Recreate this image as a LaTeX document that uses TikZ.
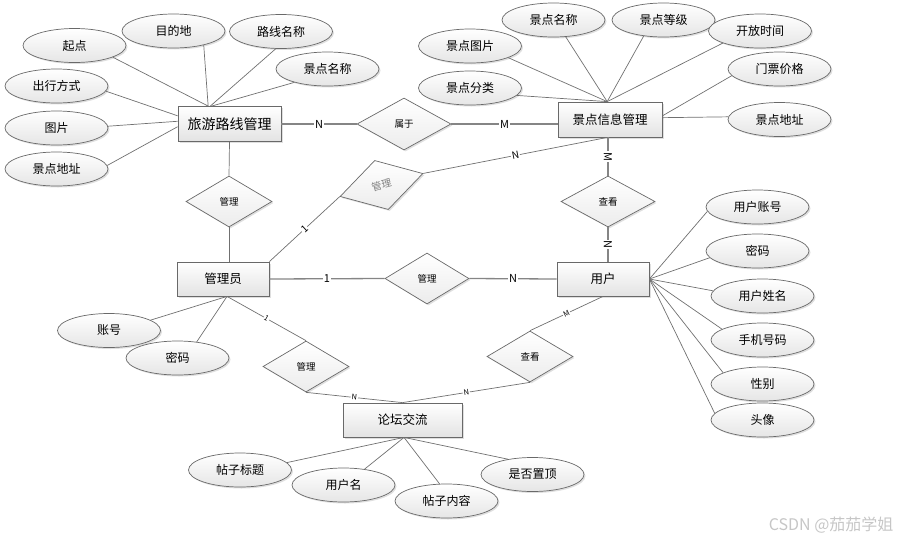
\documentclass[tikz,border=0pt]{standalone}
\usepackage{fontspec}
\setmainfont{Noto Sans CJK SC}
\usepackage{xcolor}
\usepackage{tikz}
\usetikzlibrary{shapes.geometric, shadows, positioning}

\definecolor{linegray}{RGB}{112,112,112}
\definecolor{boxgray}{RGB}{105,105,105}

\begin{document}
\begin{tikzpicture}[x=1pt, y=-1pt,
        shadowed/.style={
                drop shadow={opacity=0.25, shadow xshift=1.5pt, shadow yshift=-1.5pt},
        },
        entity/.style={
                rectangle,
                draw=boxgray,
                line width=0.8pt,
                top color=white, bottom color=gray!22,
                shadowed,
                minimum width=92pt, minimum height=34pt, inner sep=0pt,
                font=\fontsize{12.5}{15}\selectfont,
        },
        attribute/.style={
                ellipse,
                draw=boxgray,
                line width=0.7pt,
                top color=white, bottom color=gray!20,
                shadowed,
                minimum width=103pt, minimum height=34pt, inner sep=0pt,
                font=\fontsize{12}{14}\selectfont,
        },
        relation/.style={
                diamond,
                draw=boxgray,
                line width=0.7pt,
                top color=white, bottom color=gray!15,
                shadowed,
                minimum width=86pt, minimum height=51pt, inner sep=0pt,
                font=\fontsize{9.5}{11}\selectfont,
        },
        link/.style={draw=linegray, line width=0.7pt},
        strong/.style={draw=linegray!85, line width=1.3pt},
        card/.style={fill=white, inner sep=0.8pt, font=\fontsize{11}{12}\selectfont},
        smallcard/.style={card, font=\fontsize{7.5}{8}\selectfont},
    ]
    \useasboundingbox (0,0) rectangle (901,541);

    % entities
    \node[entity, minimum width=103pt, minimum height=35pt, font=\fontsize{14}{16}\selectfont] (route) at (229.5,124) {旅游路线管理};
    \node[entity, minimum width=104pt, minimum height=35pt] (spot) at (610,119.5) {景点信息管理};
    \node[entity] (admin) at (223,279) {管理员};
    \node[entity] (user) at (603,279) {用户};
    \node[entity, minimum width=119pt] (forum) at (402.5,420) {论坛交流};

    % relations
    \node[relation, minimum width=94pt, minimum height=52pt] (belong) at (404,124) {属于};
    \node[relation] (manage1) at (229,201.5) {管理};
    \node[relation, rotate=15.5, text=gray, font=\fontsize{10}{12}\selectfont] (manage2) at (381.5,185) {管理};
    \node[relation, minimum width=84pt] (manage3) at (427,278.5) {管理};
    \node[relation] (manage4) at (306,366.5) {管理};
    \node[relation, minimum width=94pt] (view1) at (608,201.5) {查看};
    \node[relation] (view2) at (530,356.5) {查看};

    % attributes of route
    \node[attribute] (start) at (74.5,45.5) {起点};
    \node[attribute] (dest) at (173.5,31) {目的地};
    \node[attribute] (routename) at (281,31.5) {路线名称};
    \node[attribute] (spotname1) at (327.5,69) {景点名称};
    \node[attribute] (travel) at (56.5,86) {出行方式};
    \node[attribute] (picture) at (56.5,128) {图片};
    \node[attribute] (spotaddr1) at (56.5,169) {景点地址};
    \draw[link] (start.-17) -- (route.140);
    \draw[link] (dest.-25) -- (route.140);
    \draw[link] (routename.253) -- (route.137);
    \draw[link] (spotname1.202) -- (route.135);
    \draw[link] (travel.-6) -- (route.171);
    \draw[link] (picture.2) -- (route.177);
    \draw[link] (spotaddr1.4) -- (route.183);

    % attributes of spot
    \node[attribute] (spotname2) at (553.5,20) {景点名称};
    \node[attribute] (spotlevel) at (663.5,20) {景点等级};
    \node[attribute] (opentime) at (760,31) {开放时间};
    \node[attribute] (spotpic) at (470,46) {景点图片};
    \node[attribute] (spottype) at (470,88) {景点分类};
    \node[attribute] (ticket) at (779.5,69) {门票价格};
    \node[attribute] (spotaddr2) at (779.5,119.5) {景点地址};
    \draw[link] (spotname2.-54) -- (spot.99);
    \draw[link] (spotlevel.219) -- (spot.99);
    \draw[link] (opentime.198) -- (spot.99);
    \draw[link] (spotpic.-17) -- (spot.99);
    \draw[link] (spottype.-9) -- (spot.99);
    \draw[link] (ticket.188) -- (spot.4);
    \draw[link] (spotaddr2.177) -- (spot.2);

    % attributes of admin
    \node[attribute] (account) at (109,330.5) {账号};
    \node[attribute] (pwd1) at (177.5,358) {密码};
    \draw[link] (account.14) -- (admin.283);
    \draw[link] (pwd1.40) -- (admin.283);

    % attributes of user
    \node[attribute] (uaccount) at (757.5,207) {用户账号};
    \node[attribute] (pwd2) at (757.5,251) {密码};
    \node[attribute] (uname) at (762.5,296) {用户姓名};
    \node[attribute] (phone) at (762.5,340) {手机号码};
    \node[attribute] (gender) at (762.5,384) {性别};
    \node[attribute] (avatar) at (762.5,420) {头像};
    \draw[link] (uaccount.185) -- (user.east);
    \draw[link] (pwd2.188) -- (user.east);
    \draw[link] (uname.174) -- (user.east);
    \draw[link] (phone.165) -- (user.east);
    \draw[link] (gender.164) -- (user.east);
    \draw[link] (avatar.172) -- (user.east);

    % attributes of forum
    \node[attribute] (title) at (240,470) {帖子标题};
    \node[attribute] (username) at (343.5,485) {用户名};
    \node[attribute] (content) at (446.5,501) {帖子内容};
    \node[attribute] (pinned) at (532.5,474.5) {是否置顶};
    \draw[link] (title.9) -- (forum.-85);
    \draw[link] (username.37) -- (forum.-85);
    \draw[link] (content.112) -- (forum.-85);
    \draw[link] (pinned.148) -- (forum.-85);

    % relation lines
    \draw[strong] (route.east) -- node[card] {N} (belong.west);
    \draw[strong] (belong.east) -- node[card] {M} (belong.east -| spot.west);
    \draw[link] (route.south) -- (manage1.north);
    \draw[link] (manage1.south) -- (manage1.south |- admin.north);
    \draw[strong] (view1.north |- spot.south) -- node[card, rotate=-90] {M} (view1.north);
    \draw[strong] (view1.south) -- node[card, rotate=-90] {N} (view1.south |- user.north);
    \draw[link] (admin.north east) -- node[card, sloped, font=\fontsize{10}{12}\selectfont] {1} (manage2.west);
    \draw[link] (manage2.east) -- node[card, sloped, font=\fontsize{10}{12}\selectfont] {N} (spot.262);
    \draw[strong] (admin.east) -- node[card] {1} (manage3.west);
    \draw[strong] (manage3.east) -- node[card] {N} (user.west);
    \draw[link] (admin.283) -- node[smallcard, sloped] {1} (manage4.north);
    \draw[link] (manage4.south) -- node[smallcard, sloped] {N} (forum.north);
    \draw[link] (user.south) -- node[smallcard, sloped] {M} (view2.north);
    \draw[link] (view2.south) -- node[smallcard, sloped] {N} (forum.north);

    \node[anchor=east, text=gray!45, font=\fontsize{16}{18}\selectfont] (mark) at (897,525) {CSDN @茄茄学姐};
\end{tikzpicture}
\end{document}
